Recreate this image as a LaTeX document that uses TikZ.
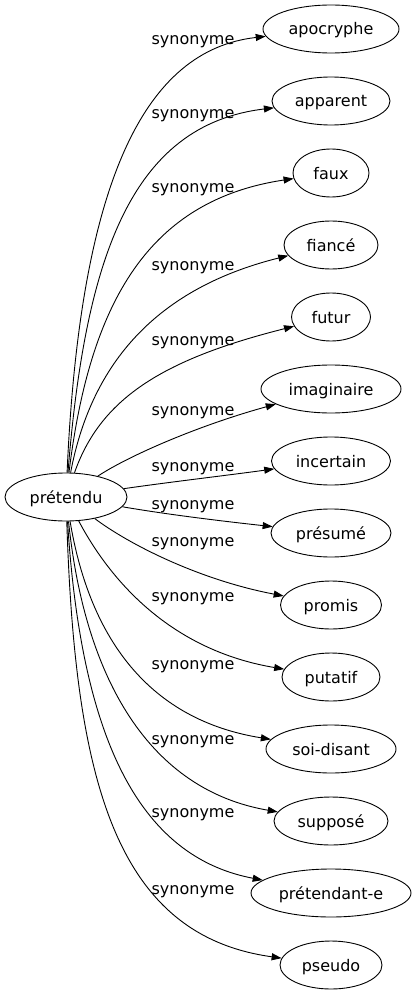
\documentclass[tikz,border=0pt]{standalone}
\usepackage{fontspec}
\setmainfont{DejaVu Sans}
\usetikzlibrary{arrows.meta,shapes.geometric}
\begin{document}
\begin{tikzpicture}[x=1pt,y=-1pt,
  word/.style={draw,ellipse,inner sep=0pt,minimum height=48pt,line width=0.9pt,
    font=\fontsize{16}{19}\selectfont,text height=12pt,text depth=0pt},
  rel/.style={font=\fontsize{16}{19}\selectfont,anchor=base,inner sep=0pt},
  link/.style={line width=0.9pt,-{Triangle[length=10pt,width=7pt]}}]
\useasboundingbox[fill=white] (0,0) rectangle (417,995);
\node[word,minimum width=122pt] (p) at (66,497) {prétendu};
\node[word,minimum width=136pt] (a1) at (331,29) {apocryphe};
\node[word,minimum width=118pt] (a2) at (331,101) {apparent};
\node[word,minimum width=76pt] (a3) at (331,173) {faux};
\node[word,minimum width=94pt] (a4) at (331,245) {fiancé};
\node[word,minimum width=79pt] (a5) at (331,317) {futur};
\node[word,minimum width=140pt] (a6) at (331,389) {imaginaire};
\node[word,minimum width=119pt] (a7) at (331,461) {incertain};
\node[word,minimum width=120pt] (a8) at (331,533) {présumé};
\node[word,minimum width=101pt] (a9) at (331,605) {promis};
\node[word,minimum width=98pt] (a10) at (331,677) {putatif};
\node[word,minimum width=130pt] (a11) at (331,749) {soi-disant};
\node[word,minimum width=114pt] (a12) at (331,821) {supposé};
\node[word,minimum width=160pt] (a13) at (331,893) {prétendant-e};
\node[word,minimum width=102pt] (a14) at (331,965) {pseudo};

\draw[link] (p) .. controls (80,180) and (145,50) .. (a1);
\draw[link] (p) .. controls (85,260) and (130,125) .. (a2);
\draw[link] (p) .. controls (90,300) and (150,200) .. (a3);
\draw[link] (p) .. controls (90,370) and (150,290) .. (a4);
\draw[link] (p) .. controls (100,400) and (160,360) .. (a5);
\draw[link] (p) .. controls (130,455) and (200,425) .. (a6);
\draw[link] (p) .. controls (170,482) and (230,475) .. (a7);
\draw[link] (p) .. controls (170,515) and (230,522) .. (a8);
\draw[link] (p) .. controls (130,545) and (200,580) .. (a9);
\draw[link] (p) .. controls (110,580) and (170,650) .. (a10);
\draw[link] (p) .. controls (90,640) and (150,720) .. (a11);
\draw[link] (p) .. controls (85,680) and (150,790) .. (a12);
\draw[link] (p) .. controls (80,720) and (130,855) .. (a13);
\draw[link] (p) .. controls (75,780) and (115,935) .. (a14);

\node[rel] (l1) at (193,45) {synonyme};
\node[rel] (l2) at (193,119) {synonyme};
\node[rel] (l3) at (193,193) {synonyme};
\node[rel] (l4) at (193,270) {synonyme};
\node[rel] (l5) at (193,345) {synonyme};
\node[rel] (l6) at (193,415) {synonyme};
\node[rel] (l7) at (193,471) {synonyme};
\node[rel] (l8) at (193,509) {synonyme};
\node[rel] (l9) at (193,546) {synonyme};
\node[rel] (l10) at (193,601) {synonyme};
\node[rel] (l11) at (193,669) {synonyme};
\node[rel] (l12) at (193,744) {synonyme};
\node[rel] (l13) at (193,817) {synonyme};
\node[rel] (l14) at (193,894) {synonyme};
\end{tikzpicture}
\end{document}
